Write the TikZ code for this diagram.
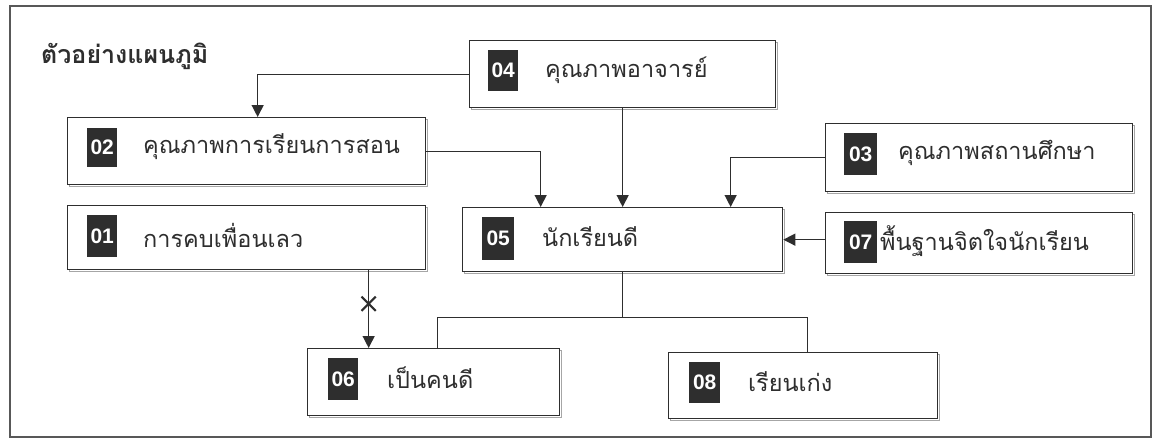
\documentclass[tikz,border=0pt]{standalone}
\usepackage{fontspec}
\newfontfamily\thai[Script=Thai]{Loma}
\newfontfamily\digitfont{Liberation Sans}
\usetikzlibrary{arrows.meta,shapes.misc}
\definecolor{ink}{HTML}{2E2E2E}
\tikzset{
  box/.style={draw=ink, line width=1.3pt, fill=white, anchor=north west, inner sep=0pt,
    preaction={draw=gray!70, line width=1.3pt, transform canvas={xshift=1.5pt,yshift=-2pt}}},
  badge/.style={fill=ink, text=white, anchor=north west, inner sep=0pt,
    font=\digitfont\bfseries\fontsize{21}{21}\selectfont, align=center},
  lbl/.style={anchor=west, inner sep=0pt, text=ink, font=\thai\fontsize{23.5}{26}\selectfont},
  arr/.style={draw=ink, line width=1.3pt, -{Triangle[length=12pt,width=12pt]}},
  link/.style={draw=ink, line width=1.3pt},
}
\begin{document}
\begin{tikzpicture}[x=1pt,y=-1pt]
\useasboundingbox (0,0) rectangle (1154,442);
\draw[draw=ink!80, line width=1.2pt] (10,6) rectangle (1151,437);
\node[anchor=west, inner sep=0pt, text=ink, font=\thai\bfseries\fontsize{25}{28}\selectfont] (title) at (41,56) {ตัวอย่างแผนภูมิ};

% boxes
\node[box, minimum width=306pt, minimum height=67pt] (b04) at (469,40) {};
\node[box, minimum width=358pt, minimum height=67pt] (b02) at (67,117) {};
\node[box, minimum width=358pt, minimum height=64pt] (b01) at (67,205) {};
\node[box, minimum width=320pt, minimum height=64pt] (b05) at (462,207) {};
\node[box, minimum width=307pt, minimum height=68pt] (b03) at (825,123) {};
\node[box, minimum width=307pt, minimum height=61pt] (b07) at (825,212) {};
\node[box, minimum width=252pt, minimum height=67pt] (b06) at (307,348) {};
\node[box, minimum width=269pt, minimum height=66pt] (b08) at (668,352) {};

% badges
\node[badge, minimum width=30pt, minimum height=41pt] (n04) at (488,50) {04};
\node[badge, minimum width=30pt, minimum height=39pt] (n02) at (87,128) {02};
\node[badge, minimum width=30pt, minimum height=42pt] (n01) at (87,215) {01};
\node[badge, minimum width=32pt, minimum height=43pt] (n05) at (482,217) {05};
\node[badge, minimum width=33pt, minimum height=42pt] (n03) at (844,133) {03};
\node[badge, minimum width=33pt, minimum height=42pt] (n07) at (844,221) {07};
\node[badge, minimum width=30pt, minimum height=42pt] (n06) at (328,358) {06};
\node[badge, minimum width=31pt, minimum height=41pt] (n08) at (689,362) {08};

% labels
\node[lbl] (t04) at (545,70) {คุณภาพอาจารย์};
\node[lbl] (t02) at (143,147) {คุณภาพการเรียนการสอน};
\node[lbl] (t01) at (143,235) {การคบเพื่อนเลว};
\node[lbl] (t05) at (542,237) {นักเรียนดี};
\node[lbl] (t03) at (898,153) {คุณภาพสถานศึกษา};
\node[lbl] (t07) at (880,241) {พื้นฐานจิตใจนักเรียน};
\node[lbl] (t06) at (387,378) {เป็นคนดี};
\node[lbl] (t08) at (748,382) {เรียนเก่ง};

% connectors
\draw[arr] (b04.west) -| ([xshift=11pt]b02.north);
\draw[arr] (b02.east) -| ([xshift=-82pt]b05.north);
\draw[arr] (b04.south) -- (b05.north);
\draw[arr] (b03.west) -| ([xshift=108pt]b05.north);
\draw[arr] (b05.east -| b07.west) -- (b05.east);
\draw[arr] ([xshift=-65pt]b06.north |- b01.south) -- ([xshift=-65pt]b06.north)
  node[pos=0.43, cross out, draw=ink, line width=2.2pt, minimum size=12pt, inner sep=0pt] (x16) {};
\coordinate (j) at ([yshift=-45pt]b05.south);
\draw[link] (b05.south) -- (j);
\draw[link] (j) -| ([xshift=4pt]b06.north);
\draw[link] (j) -| ([xshift=4pt]b08.north);
\end{tikzpicture}
\end{document}
